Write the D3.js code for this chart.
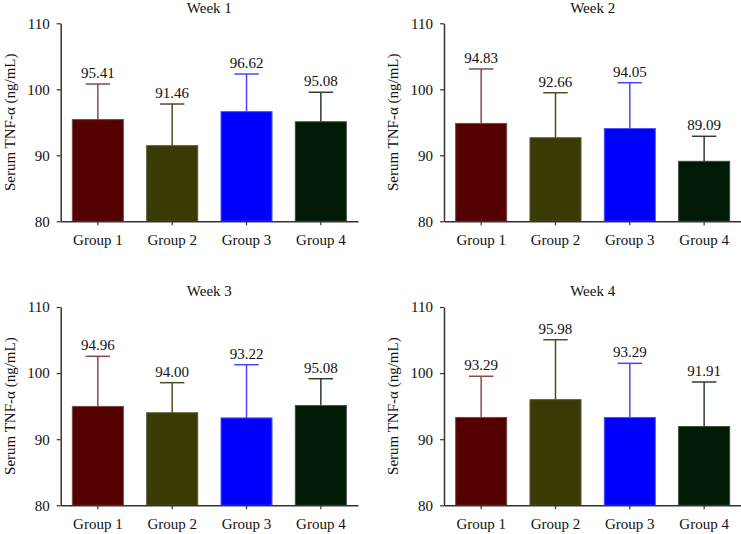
<!DOCTYPE html>
<html>
<head>
<meta charset="utf-8">
<script src="https://cdn.jsdelivr.net/npm/d3@7"></script>
<style>
  html, body { margin: 0; padding: 0; background: #fff; }
  svg { display: block; }
  text { font-family: "Liberation Serif", "Times New Roman", serif; fill: #111; }
</style>
</head>
<body>
<svg id="chart" width="741" height="534"></svg>
<script>
const weeks = ["Week 1", "Week 2", "Week 3", "Week 4"];
const groups = ["Group 1", "Group 2", "Group 3", "Group 4"];
const week1Mean = [95.41, 91.46, 96.62, 95.08];
const week2Mean = [94.83, 92.66, 94.05, 89.09];
const week3Mean = [94.96, 94.00, 93.22, 95.08];
const week4Mean = [93.29, 95.98, 93.29, 91.91];
const week1SD = [5.39, 6.31, 5.70, 4.47];
const week2SD = [8.25, 6.82, 6.95, 3.79];
const week3SD = [7.58, 4.55, 8.05, 4.07];
const week4SD = [6.23, 9.07, 8.19, 6.74];
const yTicks = [80, 90, 100, 110];
const yDomain = [80, 110];
const yLabel = "Serum TNF-α (ng/mL)";

const barColors = ["#550000", "#3a3a05", "#0000ff", "#001a05"];
const barStroke = ["#7a4646", "#5a5a35", "#5050ff", "#3c4a3e"];
const errColors = ["#8a4a4a", "#4d4d22", "#4646ff", "#2e3e30"];

const means = [week1Mean, week2Mean, week3Mean, week4Mean];
const sds = [week1SD, week2SD, week3SD, week4SD];

const panels = [
  { x0: 60.7, x1: 358, yTop: 23.3, yBot: 221.3 },
  { x0: 444, x1: 741.3, yTop: 23.3, yBot: 221.3 },
  { x0: 60.7, x1: 358, yTop: 307, yBot: 505.3 },
  { x0: 444, x1: 741.3, yTop: 307, yBot: 505.3 }
];

const svg = d3.select("#chart");
const fs = 15;

panels.forEach((p, i) => {
  const g = svg.append("g");
  const x = d3.scaleBand().domain(groups).range([p.x0, p.x1]).paddingInner(0.3).paddingOuter(0.15);
  const y = d3.scaleLinear().domain(yDomain).range([p.yBot, p.yTop]);
  const data = groups.map((gr, k) => ({ group: gr, mean: means[i][k], sd: sds[i][k], k }));

  // bars
  g.selectAll("rect.bar").data(data).enter().append("rect")
    .attr("class", "bar")
    .attr("x", d => x(d.group) + 0.5)
    .attr("width", x.bandwidth() - 1)
    .attr("y", d => y(d.mean))
    .attr("height", d => y(yDomain[0]) - y(d.mean))
    .attr("fill", d => barColors[d.k])
    .attr("stroke", d => barStroke[d.k])
    .attr("stroke-width", 1);

  // error bars
  const capW = x.bandwidth() * 0.47;
  const eb = g.selectAll("g.err").data(data).enter().append("g").attr("class", "err");
  eb.append("line")
    .attr("x1", d => x(d.group) + x.bandwidth() / 2)
    .attr("x2", d => x(d.group) + x.bandwidth() / 2)
    .attr("y1", d => y(d.mean))
    .attr("y2", d => y(d.mean + d.sd))
    .attr("stroke", d => errColors[d.k])
    .attr("stroke-width", 1.5);
  eb.append("line")
    .attr("x1", d => x(d.group) + x.bandwidth() / 2 - capW / 2)
    .attr("x2", d => x(d.group) + x.bandwidth() / 2 + capW / 2)
    .attr("y1", d => y(d.mean + d.sd))
    .attr("y2", d => y(d.mean + d.sd))
    .attr("stroke", d => errColors[d.k])
    .attr("stroke-width", 1.5);

  // value labels
  g.selectAll("text.val").data(data).enter().append("text")
    .attr("class", "val")
    .attr("x", d => x(d.group) + x.bandwidth() / 2)
    .attr("y", d => y(d.mean + d.sd) - 6)
    .attr("text-anchor", "middle")
    .style("font-size", fs + "px")
    .text(d => d.mean.toFixed(2));

  // axes
  const ya = g.append("g").attr("transform", `translate(${p.x0},0)`)
    .call(d3.axisLeft(y).tickValues(yTicks).tickSize(4).tickSizeOuter(0).tickPadding(7));
  const xa = g.append("g").attr("transform", `translate(0,${p.yBot})`)
    .call(d3.axisBottom(x).tickSize(4).tickSizeOuter(0).tickPadding(9.5));
  [ya, xa].forEach(a => {
    a.selectAll("path.domain").attr("stroke", "#333").attr("stroke-width", 1.5);
    a.selectAll(".tick line").attr("stroke", "#333").attr("stroke-width", 1.2);
    a.selectAll(".tick text").attr("fill", "#111")
      .style("font-family", '"Liberation Serif", "Times New Roman", serif')
      .style("font-size", fs + "px");
  });

  // title
  g.append("text")
    .attr("x", (p.x0 + p.x1) / 2)
    .attr("y", Math.max(p.yTop - 11.5, 13))
    .attr("text-anchor", "middle")
    .style("font-size", fs + "px")
    .text(weeks[i]);

  // y label
  g.append("text")
    .attr("transform", `translate(${p.x0 - 46},${(p.yTop + p.yBot) / 2}) rotate(-90)`)
    .attr("text-anchor", "middle")
    .style("font-size", fs + "px")
    .text(yLabel);
});
</script>
</body>
</html>
